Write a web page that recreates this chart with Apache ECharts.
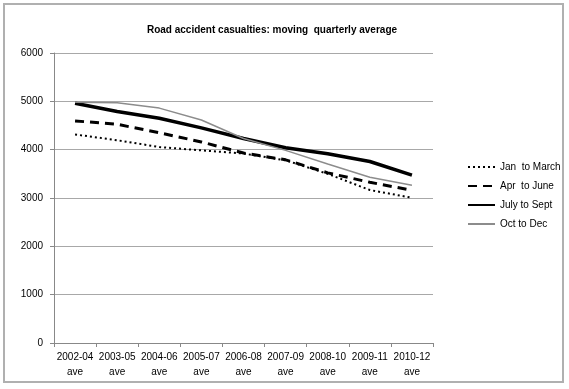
<!DOCTYPE html>
<html>
<head>
<meta charset="utf-8">
<script src="https://cdn.jsdelivr.net/npm/echarts@6/dist/echarts.min.js"></script>
<style>
html,body{margin:0;padding:0;background:#fff;}
#chart{width:569px;height:389px;}
</style>
</head>
<body>
<div id="chart"></div>
<script>
var categories = ['2002-04\nave','2003-05\nave','2004-06\nave','2005-07\nave','2006-08\nave','2007-09\nave','2008-10\nave','2009-11\nave','2010-12\nave'];
var janToMarch = [4315, 4195, 4055, 3985, 3920, 3780, 3500, 3165, 3005];
var aprToJune  = [4595, 4525, 4350, 4160, 3930, 3790, 3520, 3325, 3160];
var julyToSept = [4960, 4790, 4650, 4450, 4230, 4040, 3915, 3755, 3475];
var octToDec   = [4980, 4970, 4860, 4615, 4230, 3985, 3705, 3430, 3265];
var seriesNames = ['Jan  to March', 'Apr  to June', 'July to Sept', 'Oct to Dec'];
var yTicks = [0, 1000, 2000, 3000, 4000, 5000, 6000];

var font = '"Liberation Sans", Arial, sans-serif';
var chart = echarts.init(document.getElementById('chart'), null, {renderer: 'canvas'});
chart.setOption({
  animation: false,
  backgroundColor: '#fff',
  textStyle: {fontFamily: font},
  title: {
    text: 'Road accident casualties: moving  quarterly average',
    left: 267, top: 20, textAlign: 'center',
    textStyle: {fontSize: 10, fontWeight: 'bold', color: '#000', fontFamily: font}
  },
  graphic: [{
    type: 'rect', shape: {x: 4, y: 4, width: 559, height: 378},
    style: {fill: 'none', stroke: '#b0b0b0', lineWidth: 2}, silent: true, z: -1
  }],
  grid: {left: 54, right: 136, top: 53, bottom: 46, containLabel: false},
  legend: {
    orient: 'vertical', left: 462, top: 157, itemWidth: 27, itemHeight: 10, itemGap: 9,
    data: seriesNames,
    itemStyle: {opacity: 0},
    textStyle: {fontSize: 10, color: '#000', fontFamily: font}
  },
  xAxis: {
    type: 'category', data: categories, boundaryGap: true,
    axisLine: {lineStyle: {color: '#888', width: 1}},
    axisTick: {show: true, interval: 0, length: 4, lineStyle: {color: '#888'}},
    axisLabel: {interval: 0, fontSize: 10, color: '#000', lineHeight: 15, margin: 7, fontFamily: font}
  },
  yAxis: {
    type: 'value', min: yTicks[0], max: yTicks[yTicks.length - 1], interval: 1000,
    axisLine: {show: true, lineStyle: {color: '#888', width: 1}},
    axisTick: {show: true, length: 4, lineStyle: {color: '#888'}},
    axisLabel: {fontSize: 10, color: '#000', margin: 11, fontFamily: font,
      formatter: function (v) { return String(v); }},
    splitLine: {lineStyle: {color: '#a8a8a8', width: 1}}
  },
  series: [
    {name: seriesNames[0], type: 'line', data: janToMarch, symbol: 'none',
     lineStyle: {color: '#000', width: 2, type: [2, 3]}, itemStyle: {color: '#000'}},
    {name: seriesNames[1], type: 'line', data: aprToJune, symbol: 'none',
     lineStyle: {color: '#000', width: 3, type: [9, 6]}, itemStyle: {color: '#000'}},
    {name: seriesNames[2], type: 'line', data: julyToSept, symbol: 'none',
     lineStyle: {color: '#000', width: 3.5}, itemStyle: {color: '#000'}},
    {name: seriesNames[3], type: 'line', data: octToDec, symbol: 'none',
     lineStyle: {color: '#8c8c8c', width: 1.5}, itemStyle: {color: '#8c8c8c'}}
  ]
});
</script>
</body>
</html>
